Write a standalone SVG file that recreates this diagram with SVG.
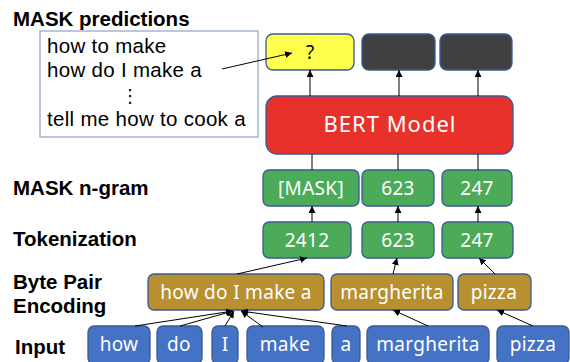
<svg xmlns="http://www.w3.org/2000/svg" width="570" height="362" viewBox="0 0 570 362">
<defs>
<marker id="ah" viewBox="0 0 10 10" refX="10" refY="5" markerWidth="7" markerHeight="7" orient="auto" markerUnits="userSpaceOnUse"><path d="M0,0 L10,5 L0,10 z" fill="#000"/></marker>
<style>
.lbl{font-family:"Liberation Sans",Arial,sans-serif;font-weight:bold;font-size:20.5px;fill:#000}
.t{font-family:"Noto Sans","Noto Sans CJK JP",sans-serif;font-size:19px;letter-spacing:0.3px;fill:#fff;text-anchor:middle}
.bx{stroke:#3A5A95;stroke-width:1.3}
.blue{fill:#4472C4}
.gold{fill:#B8902F}
.green{fill:#4CAB59}
.con{stroke:#000;stroke-width:1;fill:none;marker-end:url(#ah)}
.ln{stroke:#000;stroke-width:1;fill:none}
</style>
</defs>
<rect width="570" height="362" fill="#fff"/>
<text class="lbl" x="13" y="26">MASK predictions</text>
<text class="lbl" x="13" y="195">MASK n-gram</text>
<text class="lbl" x="13" y="246">Tokenization</text>
<text class="lbl" x="13" y="289">Byte Pair</text>
<text class="lbl" x="13" y="313">Encoding</text>
<text class="lbl" x="15" y="354">Input</text>

<g id="pred-box">
<rect x="40" y="31" width="218" height="106" fill="#fff" stroke="#8EA2C8" stroke-width="1.2"/>
<g font-family="Liberation Sans,Arial,sans-serif" font-size="20.5" letter-spacing="0.3" fill="#000">
<text x="47" y="53">how to make</text>
<text x="47" y="77">how do I make a</text>
<text x="130" y="102" text-anchor="middle" font-family="DejaVu Sans,sans-serif" font-size="18" letter-spacing="0">⋮</text>
<text x="47" y="126">tell me how to cook a</text>
</g>
</g>

<g id="out1"><rect class="bx" x="266" y="34" width="88" height="36" rx="7" fill="#FFFF4D"/><text x="310" y="59" font-family="Noto Sans,sans-serif" font-size="19" text-anchor="middle" fill="#000">?</text></g>
<g id="out2"><rect class="bx" x="362" y="34" width="73" height="36" rx="7" fill="#404040"/></g>
<g id="out3"><rect class="bx" x="440" y="34" width="72" height="36" rx="7" fill="#404040"/></g>

<g id="bert"><rect class="bx" x="266" y="96" width="247" height="58" rx="11" fill="#E8312A"/><text class="t" x="390" y="132" style="font-size:22px;letter-spacing:1px">BERT Model</text></g>

<g id="mask1"><rect class="bx green" x="263" y="170" width="96" height="36" rx="6"/><text class="t" x="311" y="195">[MASK]</text></g>
<g id="mask2"><rect class="bx green" x="362" y="170" width="72" height="36" rx="6"/><text class="t" x="398" y="195">623</text></g>
<g id="mask3"><rect class="bx green" x="442" y="170" width="70" height="36" rx="6"/><text class="t" x="477" y="195">247</text></g>

<g id="tok1"><rect class="bx green" x="263" y="222" width="88" height="36" rx="6"/><text class="t" x="307" y="247">2412</text></g>
<g id="tok2"><rect class="bx green" x="362" y="222" width="72" height="36" rx="6"/><text class="t" x="398" y="247">623</text></g>
<g id="tok3"><rect class="bx green" x="442" y="222" width="71" height="36" rx="6"/><text class="t" x="477" y="247">247</text></g>

<g id="bpe1"><rect class="bx gold" x="148" y="274" width="176" height="36" rx="6"/><text class="t" x="236" y="299">how do I make a</text></g>
<g id="bpe2"><rect class="bx gold" x="331" y="274" width="122" height="36" rx="6"/><text class="t" x="392" y="299">margherita</text></g>
<g id="bpe3"><rect class="bx gold" x="458" y="274" width="73" height="36" rx="6"/><text class="t" x="494" y="299">pizza</text></g>

<g id="in-how"><rect class="bx blue" x="88" y="326" width="62" height="38" rx="6"/><text class="t" x="119" y="351">how</text></g>
<g id="in-do"><rect class="bx blue" x="157" y="326" width="45" height="38" rx="6"/><text class="t" x="179" y="351">do</text></g>
<g id="in-I"><rect class="bx blue" x="212" y="326" width="26" height="38" rx="6"/><text class="t" x="225" y="351">I</text></g>
<g id="in-make"><rect class="bx blue" x="247" y="326" width="77" height="38" rx="6"/><text class="t" x="285" y="351">make</text></g>
<g id="in-a"><rect class="bx blue" x="332" y="326" width="28" height="38" rx="6"/><text class="t" x="346" y="351">a</text></g>
<g id="in-margherita"><rect class="bx blue" x="367" y="326" width="122" height="38" rx="6"/><text class="t" x="428" y="351">margherita</text></g>
<g id="in-pizza"><rect class="bx blue" x="497" y="326" width="72" height="38" rx="6"/><text class="t" x="533" y="351">pizza</text></g>

<g id="connectors">
<path class="con" d="M222,69 L292,53"/>
<path class="con" d="M310,96 L310,70"/>
<path class="con" d="M399,96 L399,70"/>
<path class="con" d="M478,96 L478,70"/>
<path class="ln" d="M312,170 L312,154"/>
<path class="ln" d="M398,170 L398,154"/>
<path class="ln" d="M478,170 L478,154"/>
<path class="con" d="M312,222 L312,206"/>
<path class="con" d="M398,222 L398,206"/>
<path class="con" d="M478,222 L478,206"/>
<path class="con" d="M237,274 L307,258"/>
<path class="con" d="M393,274 L397,258"/>
<path class="con" d="M495,274 L479,258"/>
<path class="con" d="M135,326 L233,311"/>
<path class="con" d="M180,326 L233,311"/>
<path class="con" d="M225,326 L234,311"/>
<path class="con" d="M263,327 L241,311"/>
<path class="con" d="M347,326 L241,311"/>
<path class="con" d="M428,326 L393,310"/>
<path class="con" d="M533,326 L497,310"/>
</g>
</svg>
